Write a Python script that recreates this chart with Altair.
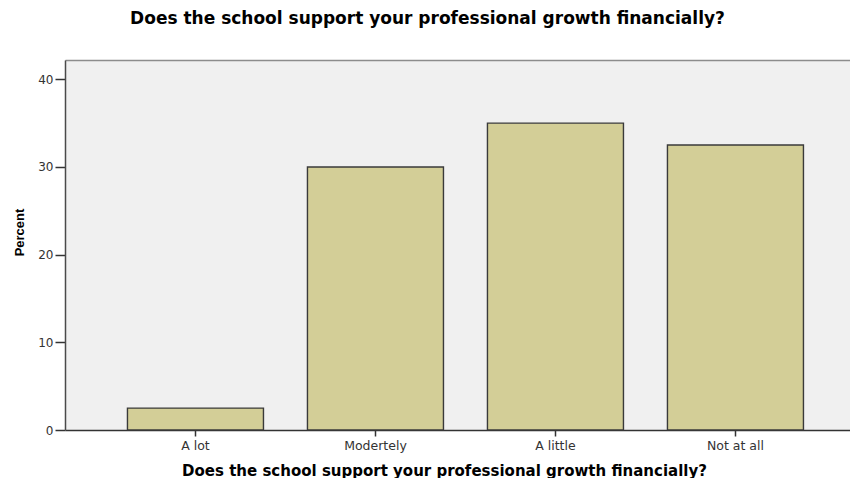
import altair as alt
import pandas as pd

categories = ["A lot", "Modertely", "A little", "Not at all"]
percent = [2.5, 30.0, 35.0, 32.5]
y_ticks = [0, 10, 20, 30, 40]

title_text = "Does the school support your professional growth financially?"

df = pd.DataFrame({"cat": categories, "pct": percent})

xscale = alt.Scale(domain=categories, paddingInner=0.2444, paddingOuter=0.3028, align=0.573)
yscale = alt.Scale(domain=[0, 42.2], nice=False, zero=True)

base = alt.Chart(df)

bars = base.mark_bar(fill="#d3ce97", stroke="#3a3a3a", strokeWidth=1.4).encode(
    x=alt.X("cat:N", sort=categories, scale=xscale,
            axis=alt.Axis(orient="bottom", title=title_text, labelAngle=0,
                          labelFont="DejaVu Sans", labelFontSize=12.5, labelColor="#333333",
                          labelPadding=3.5, tickSize=6, tickColor="#333333", tickWidth=1.5,
                          domainColor="#333333", domainWidth=1.5,
                          titleFont="DejaVu Sans", titleFontSize=15, titleFontWeight="bold",
                          titleColor="#000000", titleX=379, titleY=40,
                          titleBaseline="middle", titleAlign="center")),
    y=alt.Y("pct:Q", scale=yscale,
            axis=alt.Axis(values=y_ticks, title="Percent", grid=False,
                          labelFont="DejaVu Sans", labelFontSize=12, labelColor="#333333",
                          labelPadding=2, tickSize=10, tickColor="#333333", tickWidth=1.5,
                          domainColor="#4a4a4a", domainWidth=1.5,
                          titleFont="Liberation Sans, Arial, sans-serif",
                          titleFontSize=13, titleFontWeight="bold", titleColor="#000000",
                          titleX=-46, titleY=172, titleAngle=270,
                          titleBaseline="middle", titleAlign="center")),
)

top_border = base.mark_bar(opacity=0).encode(
    x=alt.X("cat:N", sort=categories, scale=xscale,
            axis=alt.Axis(orient="top", labels=False, ticks=False, title=None,
                          domainColor="#8c8c8c", domainWidth=1.5)),
    y=alt.Y("pct:Q", scale=yscale, axis=None),
)

chart = alt.layer(bars, top_border).resolve_axis(x="independent", y="independent").properties(
    width=785,
    height=370,
    autosize=alt.AutoSizeParams(type="none"),
    padding={"left": 57, "top": 52, "right": 0, "bottom": 48},
    view=alt.ViewBackground(fill="#f0f0f0", stroke=None),
    title=alt.TitleParams(text=title_text, font="DejaVu Sans", fontSize=17,
                          fontWeight="bold", color="#000000", anchor="middle",
                          dx=-30, offset=32),
).configure(background="#ffffff")

chart.save("out.html", embed_options={"renderer": "svg", "actions": False})
